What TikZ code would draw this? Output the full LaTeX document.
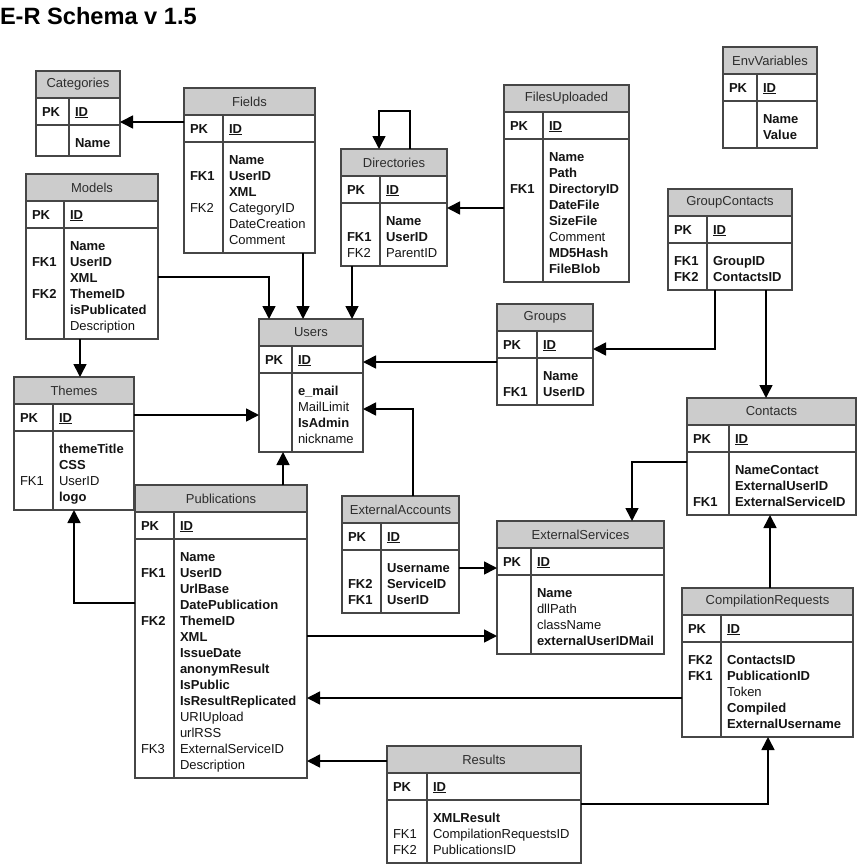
\documentclass[tikz,border=0pt]{standalone}
\usepackage{fontspec}
\setmainfont{Liberation Sans}
\usetikzlibrary{arrows.meta}

\definecolor{erline}{RGB}{70,70,70}
\definecolor{erhead}{RGB}{204,204,204}
\definecolor{ertext}{RGB}{20,20,20}
\definecolor{erheadtext}{RGB}{45,45,45}

\tikzset{
  every node/.style={inner sep=0pt, outer sep=0pt, font=\fontsize{13}{16}\selectfont, text=ertext},
  tblhead/.style={fill=erhead, draw=none, text=erheadtext},
  tblframe/.style={draw=erline, line width=1.2pt, fill=none},
  tblline/.style={draw=erline, line width=1.2pt},
  fk/.style={draw=black, line width=1.6pt, -{Triangle[length=13pt,width=13pt]}},
}

% \ertbl{name}{left}{top}{width}{key column width}{body lines}{title}{key column}{field column}
\newcommand\ertbl[9]{%
  \pgfmathsetmacro\erH{69+16*#6}%
  \node[tblhead, minimum width=#4, minimum height=27, anchor=north west] (#1-h) at (#2,#3) {#7};
  \node[tblframe, minimum width=#4, minimum height=\erH, anchor=north west] (#1) at (#2,#3) {};
  \draw[tblline] ([yshift=-27pt]#1.north west) -- ([yshift=-27pt]#1.north east);
  \draw[tblline] ([yshift=-54pt]#1.north west) -- ([yshift=-54pt]#1.north east);
  \draw[tblline] ([xshift=#5pt,yshift=-27pt]#1.north west) -- ([xshift=#5pt]#1.south west);
  \node[anchor=base west] (#1-pk) at ([xshift=6pt,yshift=-45.15pt]#1.north west) {\textbf{PK}};
  \node[anchor=base west] (#1-id) at ([xshift=#5pt+6pt,yshift=-45.15pt]#1.north west) {\textbf{\underline{ID}}};
  \node[anchor=base west] (#1-keys) at ([xshift=6pt,yshift=-76.15pt]#1.north west)
    {\begin{tabular}[t]{@{}l@{}}#8\end{tabular}};
  \node[anchor=base west] (#1-cols) at ([xshift=#5pt+6pt,yshift=-76.15pt]#1.north west)
    {\begin{tabular}[t]{@{}l@{}}#9\end{tabular}};
}

\begin{document}
\begin{tikzpicture}[x=1pt,y=-1pt]
\useasboundingbox[fill=white] (0,0) rectangle (857,864);

\node[anchor=base west, font=\fontsize{23.6}{28}\selectfont\bfseries, text=black] (title) at (0,25) {E-R Schema v 1.5};

% tables
\ertbl{categories}{36}{71}{84}{33}{1}{Categories}{}{\textbf{Name}}
\ertbl{fields}{184}{88}{131}{39}{6}{Fields}
  {\\ \textbf{FK1}\\ \\ FK2}
  {\textbf{Name}\\ \textbf{UserID}\\ \textbf{XML}\\ CategoryID\\ DateCreation\\ Comment}
\ertbl{models}{26}{174}{132}{38}{6}{Models}
  {\\ \textbf{FK1}\\ \\ \textbf{FK2}}
  {\textbf{Name}\\ \textbf{UserID}\\ \textbf{XML}\\ \textbf{ThemeID}\\ \textbf{isPublicated}\\ Description}
\ertbl{users}{259}{319}{104}{33}{4}{Users}{}
  {\textbf{e\_mail}\\ MailLimit\\ \textbf{IsAdmin}\\ nickname}
\ertbl{groups}{497}{304}{96}{40}{2}{Groups}
  {\\ \textbf{FK1}}
  {\textbf{Name}\\ \textbf{UserID}}
\ertbl{groupcontacts}{668}{189}{124}{39}{2}{GroupContacts}
  {\textbf{FK1}\\ \textbf{FK2}}
  {\textbf{GroupID}\\ \textbf{ContactsID}}
\ertbl{envvariables}{723}{47}{94}{34}{2}{EnvVariables}{}
  {\textbf{Name}\\ \textbf{Value}}
\ertbl{directories}{341}{149}{106}{39}{3}{Directories}
  {\\ \textbf{FK1}\\ FK2}
  {\textbf{Name}\\ \textbf{UserID}\\ ParentID}
\ertbl{filesuploaded}{504}{85}{125}{39}{8}{FilesUploaded}
  {\\ \\ \textbf{FK1}}
  {\textbf{Name}\\ \textbf{Path}\\ \textbf{DirectoryID}\\ \textbf{DateFile}\\ \textbf{SizeFile}\\ Comment\\ \textbf{MD5Hash}\\ \textbf{FileBlob}}
\ertbl{themes}{14}{377}{120}{39}{4}{Themes}
  {\\ \\ FK1}
  {\textbf{themeTitle}\\ \textbf{CSS}\\ UserID\\ \textbf{logo}}
\ertbl{publications}{135}{485}{172}{39}{14}{Publications}
  {\\ \textbf{FK1}\\ \\ \\ \textbf{FK2}\\ \\ \\ \\ \\ \\ \\ \\ FK3}
  {\textbf{Name}\\ \textbf{UserID}\\ \textbf{UrlBase}\\ \textbf{DatePublication}\\ \textbf{ThemeID}\\
   \textbf{XML}\\ \textbf{IssueDate}\\ \textbf{anonymResult}\\ \textbf{IsPublic}\\ \textbf{IsResultReplicated}\\
   URIUpload\\ urlRSS\\ ExternalServiceID\\ Description}
\ertbl{results}{387}{746}{194}{40}{3}{Results}
  {\\ FK1\\ FK2}
  {\textbf{XMLResult}\\ CompilationRequestsID\\ PublicationsID}
\ertbl{compilationrequests}{682}{588}{171}{39}{5}{CompilationRequests}
  {\textbf{FK2}\\ \textbf{FK1}}
  {\textbf{ContactsID}\\ \textbf{PublicationID}\\ Token\\ \textbf{Compiled}\\ \textbf{ExternalUsername}}
\ertbl{contacts}{687}{398}{169}{42}{3}{Contacts}
  {\\ \\ \textbf{FK1}}
  {\textbf{NameContact}\\ \textbf{ExternalUserID}\\ \textbf{ExternalServiceID}}
\ertbl{externalservices}{497}{521}{167}{34}{4}{ExternalServices}{}
  {\textbf{Name}\\ dllPath\\ className\\ \textbf{externalUserIDMail}}
\ertbl{externalaccounts}{342}{496}{117}{39}{3}{ExternalAccounts}
  {\\ \textbf{FK2}\\ \textbf{FK1}}
  {\textbf{Username}\\ \textbf{ServiceID}\\ \textbf{UserID}}

% routing points of the references
\coordinate (r1) at (150,122);
\coordinate (r2) at (269,277);
\coordinate (r3) at (303,300);
\coordinate (r4) at (352,300);
\coordinate (r5a) at (410,111);
\coordinate (r5b) at (379,111);
\coordinate (r6) at (480,208);
\coordinate (r7) at (80,360);
\coordinate (r8) at (200,415);
\coordinate (r9) at (283,470);
\coordinate (r10) at (74,603);
\coordinate (r11) at (430,362);
\coordinate (r12) at (413,409);
\coordinate (r13) at (715,349);
\coordinate (r14) at (766,340);
\coordinate (r15) at (632,462);
\coordinate (r16) at (480,568);
\coordinate (r17) at (400,636);
\coordinate (r18) at (770,560);
\coordinate (r19) at (500,698);
\coordinate (r20) at (350,761);
\coordinate (r21) at (768,804);

% foreign key references
\draw[fk] (r1 -| fields.west) -- (r1 -| categories.east);
\draw[fk] (r2 -| models.east) -- (r2) -- (r2 |- users.north);
\draw[fk] (r3 |- fields.south) -- (r3 |- users.north);
\draw[fk] (r4 |- directories.south) -- (r4 |- users.north);
\draw[fk] (r5a |- directories.north) -- (r5a) -- (r5b) -- (r5b |- directories.north);
\draw[fk] (r6 -| filesuploaded.west) -- (r6 -| directories.east);
\draw[fk] (r7 |- models.south) -- (r7 |- themes.north);
\draw[fk] (r8 -| themes.east) -- (r8 -| users.west);
\draw[fk] (r9 |- publications.north) -- (r9 |- users.south);
\draw[fk] (r10 -| publications.west) -- (r10) -- (r10 |- themes.south);
\draw[fk] (r11 -| groups.west) -- (r11 -| users.east);
\draw[fk] (r12 |- externalaccounts.north) -- (r12) -- (r12 -| users.east);
\draw[fk] (r13 |- groupcontacts.south) -- (r13) -- (r13 -| groups.east);
\draw[fk] (r14 |- groupcontacts.south) -- (r14 |- contacts.north);
\draw[fk] (r15 -| contacts.west) -- (r15) -- (r15 |- externalservices.north);
\draw[fk] (r16 -| externalaccounts.east) -- (r16 -| externalservices.west);
\draw[fk] (r17 -| publications.east) -- (r17 -| externalservices.west);
\draw[fk] (r18 |- compilationrequests.north) -- (r18 |- contacts.south);
\draw[fk] (r19 -| compilationrequests.west) -- (r19 -| publications.east);
\draw[fk] (r20 -| results.west) -- (r20 -| publications.east);
\draw[fk] (r21 -| results.east) -- (r21) -- (r21 |- compilationrequests.south);
\end{tikzpicture}
\end{document}
